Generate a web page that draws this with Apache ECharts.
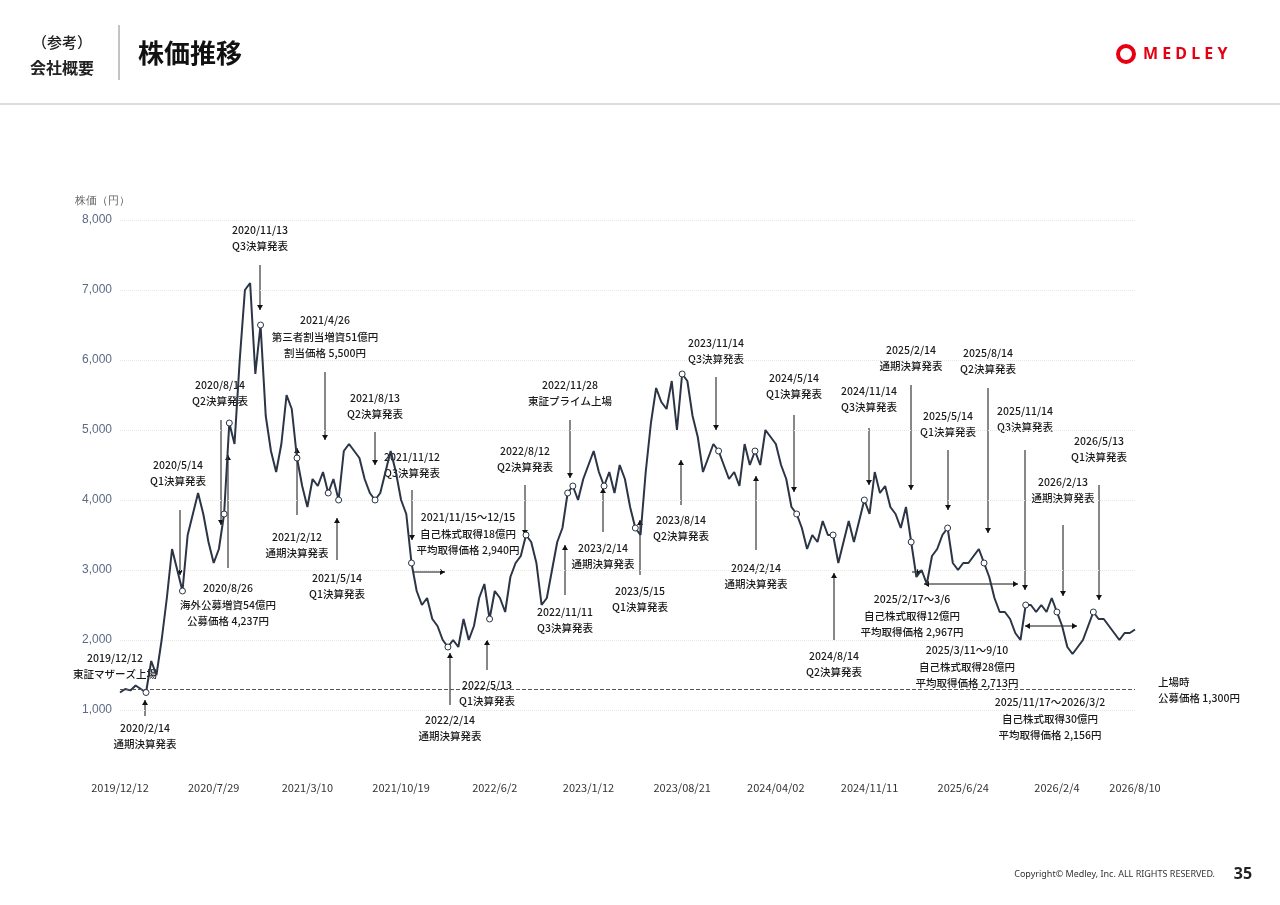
<!DOCTYPE html>
<html><head><meta charset="utf-8">
<script src="https://cdn.jsdelivr.net/npm/echarts@6/dist/echarts.min.js"></script>
<style>body{margin:0;background:#fff}#c{width:1280px;height:905px}</style></head>
<body><div id="c"></div>
<script>
const prices=[1250,1300,1280,1350,1300,1250,1700,1500,2000,2600,3300,3000,2700,3500,3800,4100,3800,3400,3100,3300,3800,5100,4800,6000,7000,7100,5800,6500,5200,4700,4400,4800,5500,5300,4600,4200,3900,4300,4200,4400,4100,4300,4000,4700,4800,4700,4600,4300,4100,4000,4100,4400,4700,4400,4000,3800,3100,2700,2500,2600,2300,2200,2000,1900,2000,1900,2300,2000,2200,2600,2800,2300,2700,2600,2400,2900,3100,3200,3500,3400,3100,2500,2600,3000,3400,3600,4100,4200,4000,4300,4500,4700,4400,4200,4400,4100,4500,4300,3900,3600,3500,4400,5100,5600,5400,5300,5700,5000,5800,5700,5200,4900,4400,4600,4800,4700,4500,4300,4400,4200,4800,4500,4700,4500,5000,4900,4800,4500,4300,3900,3800,3600,3300,3500,3400,3700,3500,3500,3100,3400,3700,3400,3700,4000,3800,4400,4100,4200,3900,3800,3600,3900,3400,2900,3000,2800,3200,3300,3500,3600,3100,3000,3100,3100,3200,3300,3100,2900,2600,2400,2400,2300,2100,2000,2500,2500,2400,2500,2400,2600,2400,2200,1900,1800,1900,2000,2200,2400,2300,2300,2200,2100,2000,2100,2100,2150];
const tickLabels={0:'2019/12/12',18:'2020/7/29',36:'2021/3/10',54:'2021/10/19',72:'2022/6/2',90:'2023/1/12',108:'2023/08/21',126:'2024/04/02',144:'2024/11/11',162:'2025/6/24',180:'2026/2/4',195:'2026/8/10'};
const eventIdx=[5,12,20,21,27,34,40,42,49,56,63,71,78,86,87,93,99,108,115,122,130,137,143,152,159,166,174,180,187];
const ipoPrice=1300;
const cats=prices.map((_,i)=>String(i));
const ann=[
['2019/12/12\n東証マザーズ上場',115,666],['2020/2/14\n通期決算発表',145,736],['2020/5/14\nQ1決算発表',178,473],
['2020/8/14\nQ2決算発表',220,393],['2020/8/26\n海外公募増資54億円\n公募価格 4,237円',228,605],['2020/11/13\nQ3決算発表',260,238],
['2021/2/12\n通期決算発表',297,545],['2021/4/26\n第三者割当増資51億円\n割当価格 5,500円',325,337],['2021/5/14\nQ1決算発表',337,586],
['2021/8/13\nQ2決算発表',375,406],['2021/11/12\nQ3決算発表',412,465],['2021/11/15〜12/15\n自己株式取得18億円\n平均取得価格 2,940円',468,534],
['2022/2/14\n通期決算発表',450,728],['2022/5/13\nQ1決算発表',487,693],['2022/8/12\nQ2決算発表',525,459],
['2022/11/11\nQ3決算発表',565,620],['2022/11/28\n東証プライム上場',570,393],['2023/2/14\n通期決算発表',603,556],
['2023/5/15\nQ1決算発表',640,599],['2023/8/14\nQ2決算発表',681,528],['2023/11/14\nQ3決算発表',716,351],
['2024/2/14\n通期決算発表',756,576],['2024/5/14\nQ1決算発表',794,386],['2024/8/14\nQ2決算発表',834,664],
['2024/11/14\nQ3決算発表',869,399],['2025/2/14\n通期決算発表',911,358],['2025/2/17〜3/6\n自己株式取得12億円\n平均取得価格 2,967円',912,616],
['2025/5/14\nQ1決算発表',948,424],['2025/8/14\nQ2決算発表',988,361],['2025/3/11〜9/10\n自己株式取得28億円\n平均取得価格 2,713円',967,667],
['2025/11/14\nQ3決算発表',1025,419],['2026/2/13\n通期決算発表',1063,490],['2026/5/13\nQ1決算発表',1099,449],
['2025/11/17〜2026/3/2\n自己株式取得30億円\n平均取得価格 2,156円',1050,719]];
const varr=[[145,716,700],[180,510,575],[221,420,525],[228,568,455],[260,265,310],[297,515,448],[325,372,440],[337,560,518],[375,432,465],[412,490,540],[450,705,653],[487,670,640],[525,485,535],[565,595,545],[570,420,478],[603,532,488],[640,575,520],[681,505,460],[716,377,430],[756,550,476],[794,415,492],[834,640,573],[869,428,485],[911,385,490],[948,450,510],[988,388,533],[1025,450,590],[1063,525,596],[1099,485,600]];
const harr=[[572,413,445,false],[572,912,922,false],[584,924,1018,true],[626,1025,1077,true]];
const g=[];
const TC='#1a1a1a';
const AF='500 10.5px "Noto Sans CJK JP"';
ann.forEach(a=>g.push({type:'text',x:a[1],y:a[2],style:{text:a[0],fill:TC,font:AF,textAlign:'center',textVerticalAlign:'middle',lineHeight:16.5}}));
function head(x,y,dx,dy){const s=5,w=3;return {type:'polygon',shape:{points:[[x,y],[x-dx*s-dy*w,y-dy*s-dx*w],[x-dx*s+dy*w,y-dy*s+dx*w]]},style:{fill:'#111'}};}
varr.forEach(a=>{g.push({type:'line',shape:{x1:a[0],y1:a[1],x2:a[0],y2:a[2]},style:{stroke:'#111',lineWidth:1}});g.push(head(a[0],a[2],0,a[2]>a[1]?1:-1));});
harr.forEach(a=>{g.push({type:'line',shape:{x1:a[1],y1:a[0],x2:a[2],y2:a[0]},style:{stroke:'#111',lineWidth:1}});g.push(head(a[2],a[0],1,0));if(a[3])g.push(head(a[1],a[0],-1,0));});
g.push({type:'text',x:1158,y:690,style:{text:'上場時\n公募価格 1,300円',fill:TC,font:AF,textVerticalAlign:'middle',lineHeight:16}});
g.push({type:'text',x:62,y:42,style:{text:'（参考）',fill:'#222',font:'500 15px "Noto Sans CJK JP"',textAlign:'center',textVerticalAlign:'middle'}});
g.push({type:'text',x:62,y:68,style:{text:'会社概要',fill:'#222',font:'bold 16px "Noto Sans CJK JP"',textAlign:'center',textVerticalAlign:'middle'}});
g.push({type:'line',shape:{x1:119,y1:25,x2:119,y2:80},style:{stroke:'#888',lineWidth:1}});
g.push({type:'text',x:138,y:53,style:{text:'株価推移',fill:'#111',font:'bold 26px "Noto Sans CJK JP"',textVerticalAlign:'middle'}});
g.push({type:'line',shape:{x1:0,y1:104,x2:1280,y2:104},style:{stroke:'#bbb',lineWidth:1}});
g.push({type:'circle',shape:{cx:1126,cy:54,r:8},style:{fill:'none',stroke:'#e60012',lineWidth:4}});
g.push({type:'text',x:1143,y:54,style:{text:'M E D L E Y',fill:'#e60012',font:'bold 16px "Noto Sans"',textVerticalAlign:'middle'}});
g.push({type:'text',x:1215,y:874,style:{text:'Copyright© Medley, Inc. ALL RIGHTS RESERVED.',fill:'#333',font:'9px "Noto Sans"',textAlign:'right',textVerticalAlign:'middle'}});
g.push({type:'text',x:1243,y:874,style:{text:'35',fill:'#222',font:'bold 16px "Noto Sans"',textAlign:'center',textVerticalAlign:'middle'}});
const chart=echarts.init(document.getElementById('c'));
chart.setOption({
animation:false,
grid:{left:120,right:145,top:220,bottom:195},
xAxis:{type:'category',data:cats,boundaryGap:false,axisLine:{show:false},axisTick:{show:false},
 axisLabel:{margin:72,color:'#333',fontSize:11,fontFamily:'Noto Sans CJK JP',interval:(i)=>tickLabels[i]!==undefined,formatter:(v)=>tickLabels[+v]||''}},
yAxis:{type:'value',min:1000,max:8000,interval:1000,name:'株価（円）',nameLocation:'end',nameGap:14,
 nameTextStyle:{color:'#666',fontSize:11,align:'right',padding:[0,-10,0,0]},
 axisLabel:{color:'#5b6a85',fontSize:12,formatter:v=>v.toLocaleString('en-US')},
 splitLine:{lineStyle:{color:'#e6e6e6',type:'dotted'}}},
series:[{type:'line',data:prices,symbol:'none',lineStyle:{color:'#2b3545',width:2},
 markLine:{silent:true,symbol:'none',label:{show:false},lineStyle:{color:'#555',type:'dashed',width:1},data:[{yAxis:ipoPrice}]},
 markPoint:{symbol:'circle',symbolSize:6,itemStyle:{color:'#fff',borderColor:'#2b3545',borderWidth:1},label:{show:false},
 data:eventIdx.map(i=>({coord:[String(i),prices[i]]}))}}],
graphic:g});
</script></body></html>
